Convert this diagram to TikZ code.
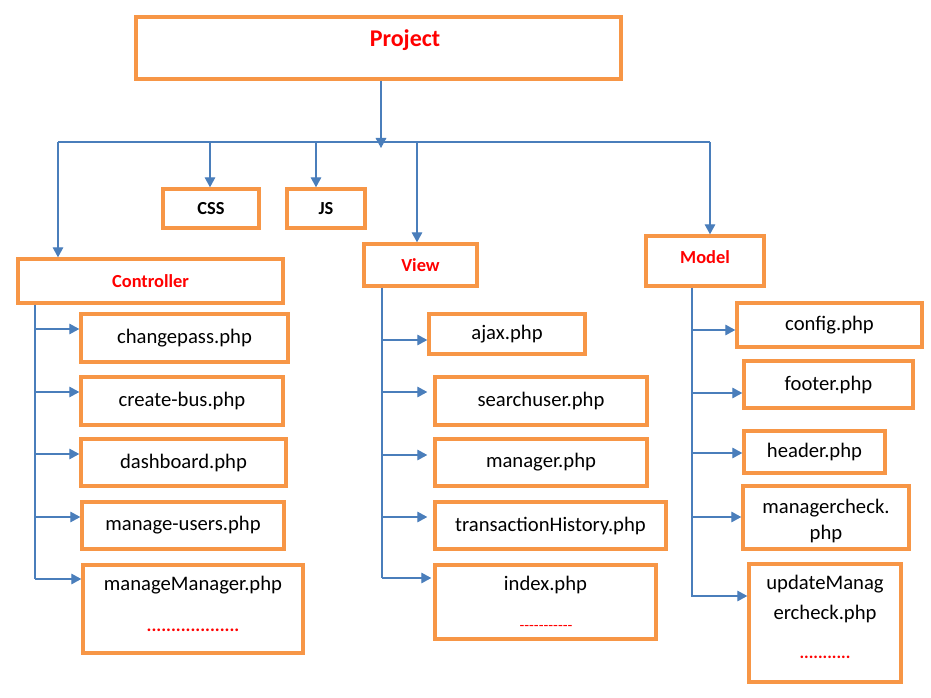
\documentclass[tikz,border=0pt]{standalone}
\usepackage{fontspec}
\setmainfont{Carlito}
\usetikzlibrary{arrows.meta}
\definecolor{boxorange}{HTML}{F79646}
\definecolor{linkblue}{HTML}{4A7EBB}
\newcommand\dashrow[1]{\foreach \i in {1,...,#1}{\mbox{-}}}

\begin{document}
\begin{tikzpicture}[x=0.75pt, y=-0.75pt,
		boxsize/.style 2 args={minimum width=#1*0.75pt, minimum height=#2*0.75pt},
		box/.style={draw=boxorange, line width=2.6pt, inner sep=0pt},
		file/.style={box, font=\fontsize{15.5}{19}\selectfont},
		filetext/.style={font=\fontsize{15.5}{19}\selectfont, inner sep=0pt},
		reddots/.style={text=red, inner sep=0pt, font=\bfseries\fontsize{13.7}{15}\selectfont},
		head/.style={box, font=\bfseries\fontsize{13.8}{16}\selectfont, text=red},
		wire/.style={draw=linkblue, line width=0.8pt},
		link/.style={wire, -{Triangle[width=8pt,length=7.5pt]}}]
			%%%%% START %%%%%
			\useasboundingbox (0,0) rectangle (931,698);
			
			\node[box, boxsize={485}{62}] (project) at (378.5,48) {};
			\node[font=\bfseries\fontsize{18}{20}\selectfont, text=red] (projectName) at (405,40) {Project};
			
			\node[head, boxsize={96}{39}, text=black] (css) at (211,208.5) {CSS};
			\node[head, boxsize={78}{39}, text=black] (js) at (326,208.5) {JS};
			\node[head, boxsize={265}{44}] (controller) at (150.5,281) {Controller};
			\node[head, boxsize={113}{42}] (view) at (420.5,265) {View};
			\node[head, boxsize={118}{50}, text depth=6pt] (model) at (705,261) {Model};
			
			% bus below the project box
			\coordinate (split) at (381,148);
			\coordinate (busL) at (58,142);
			\coordinate (busR) at (710,142);
			\coordinate (cssTop) at (210,142);
			\coordinate (jsTop) at (316,142);
			\coordinate (viewTop) at (417,142);
			\draw[link] (project.south -| split) -- (split);
			\draw[wire] (busL) -- (busR);
			\draw[link] (busL) -- (busL |- controller.north);
			\draw[link] (cssTop) -- (cssTop |- css.north);
			\draw[link] (jsTop) -- (jsTop |- js.north);
			\draw[link] (viewTop) -- (viewTop |- view.north);
			\draw[link] (busR) -- (busR |- model.north);
			
			% controller files
			\node[file, boxsize={207}{48}] (changepass) at (184.5,338) {changepass.php};
			\node[file, boxsize={202}{48}] (createBus) at (182,401) {create-bus.php};
			\node[file, boxsize={205}{47}] (dashboard) at (183.5,462.5) {dashboard.php};
			\node[file, boxsize={202}{47}] (manageUsers) at (183,525.5) {manage-users.php};
			\node[file, boxsize={220}{88}] (manageManager) at (193,609) {};
			\node[filetext] (manageManagerName) at (193,585) {manageManager.php};
			\node[reddots] (manageManagerDots) at (193,630) {...................};
			
			\coordinate (ctrlEnd) at (35,579);
			\draw[wire] (controller.south -| ctrlEnd) -- (ctrlEnd);
			\foreach \f/\y in {changepass/329, createBus/392, dashboard/454, manageUsers/517, manageManager/579}
				\draw[link] (35,\y) -- (\f.west |- 0,\y);
			
			% view files
			\node[file, boxsize={156}{40}] (ajax) at (507,334) {ajax.php};
			\node[file, boxsize={212}{48}] (searchuser) at (541,401) {searchuser.php};
			\node[file, boxsize={212}{47}] (manager) at (541,462.5) {manager.php};
			\node[file, boxsize={231}{47}] (transactionHistory) at (550.5,525.5) {transactionHistory.php};
			\node[file, boxsize={221}{74}] (index) at (545.5,602) {};
			\node[filetext] (indexName) at (545.5,585) {index.php};
			\node[reddots, font=\fontsize{11.8}{13}\selectfont] (indexDashes) at (546,628) {\dashrow{11}};
			
			\coordinate (viewEnd) at (382,578);
			\draw[wire] (view.south -| viewEnd) -- (viewEnd);
			\foreach \f/\y/\g in {ajax/340/0, searchuser/392/6, manager/455/6, transactionHistory/517/6, index/578/2}
				\draw[link, shorten >=\g*0.75pt] (382,\y) -- (\f.west |- 0,\y);
			
			% model files
			\node[file, boxsize={185}{44}] (config) at (829.5,325) {config.php};
			\node[file, boxsize={169}{47}] (footer) at (828.5,384.5) {footer.php};
			\node[file, boxsize={141}{42}] (header) at (814.5,452) {header.php};
			\node[file, boxsize={166}{63}] (managercheck) at (826,517.5) {};
			\node[filetext, align=center, font=\fontsize{15.5}{20}\selectfont] (managercheckName) at (826,521) {managercheck.\\php};
			\node[file, boxsize={152}{118}] (updateManagercheck) at (825,623) {};
			\node[filetext, align=center, font=\fontsize{15.5}{22}\selectfont] (updateManagercheckName) at (825,599) {updateManag\\ercheck.php};
			\node[reddots, font=\bfseries\fontsize{13}{15}\selectfont] (updateManagercheckDots) at (825,657) {...........};
			
			\coordinate (modelEnd) at (692,597);
			\draw[wire] (model.south -| modelEnd) -- (modelEnd);
			\foreach \f/\y in {config/330, footer/393, header/453, managercheck/517, updateManagercheck/596}
				\draw[link] (692,\y) -- (\f.west |- 0,\y);
			
			%%%%% END %%%%%
		\end{tikzpicture}
\end{document}
